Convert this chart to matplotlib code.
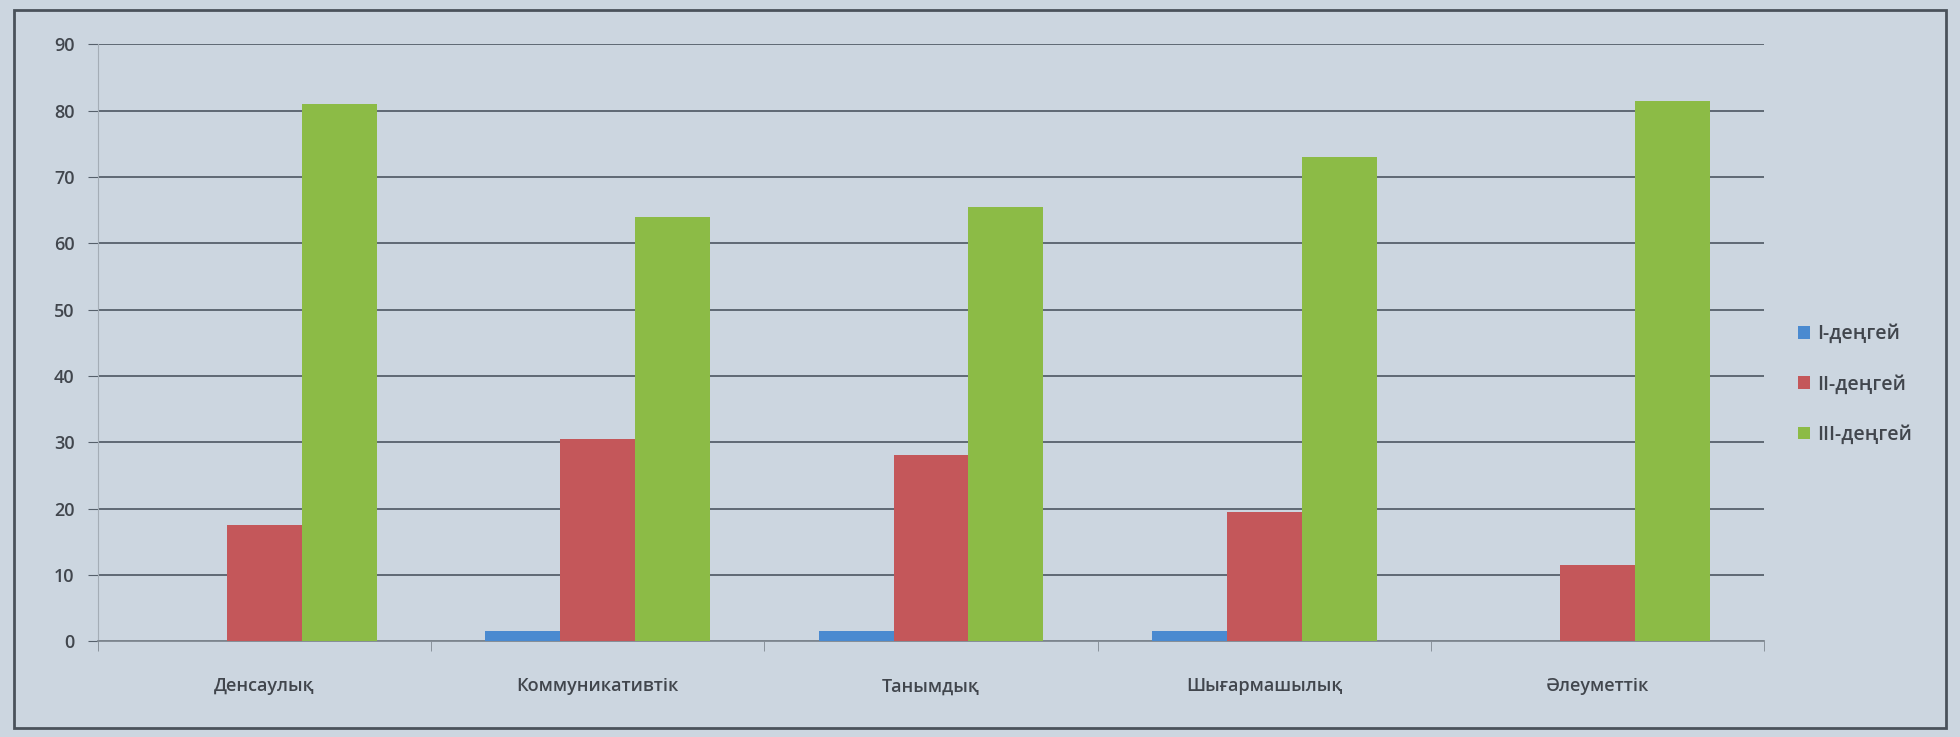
import numpy as np
import matplotlib.pyplot as plt
from matplotlib.patches import Rectangle

plt.rcParams['font.family'] = ['Open Sans', 'Noto Sans', 'DejaVu Sans']

# data
categories = ['Денсаулық', 'Коммуникативтік', 'Танымдық', 'Шығармашылық', 'Әлеуметтік']
level1 = [0, 1.5, 1.5, 1.5, 0]
level2 = [17.5, 30.5, 28, 19.5, 11.5]
level3 = [81, 64, 65.5, 73, 81.5]
series_names = ['I-деңгей', 'II-деңгей', 'III-деңгей']

colors = ['#4a8ad0', '#c4575a', '#8cbb46']
bg = '#ccd6e0'
txt = '#41464d'

fig = plt.figure(figsize=(19.6, 7.37), dpi=100, facecolor=bg)
ax = fig.add_axes([0.05, 0.13, 0.85, 0.81])
ax.set_facecolor(bg)

x = np.arange(len(categories))
w = 0.225
for i, vals in enumerate([level1, level2, level3]):
    ax.bar(x + (i - 1) * w, vals, w, color=colors[i], label=series_names[i], zorder=3)

ax.set_xlim(-0.5, len(categories) - 0.5)
ax.set_ylim(0, 90)
ax.set_yticks(range(0, 91, 10))
ax.yaxis.grid(True, color='#56606b', linewidth=1.3, zorder=0)

ax.set_xticks(x)
ax.set_xticklabels(categories, fontsize=13, color=txt, fontweight='semibold')
ax.set_xticks(np.arange(-0.5, len(categories), 1), minor=True)
ax.tick_params(axis='x', which='major', length=0, pad=26)
ax.tick_params(axis='x', which='minor', length=7, color='#7f8891')
ax.tick_params(axis='y', length=7, color='#56606b', labelsize=13,
               labelcolor=txt, pad=10)
for lab in ax.get_yticklabels():
    lab.set_fontweight('semibold')

for s in ['top', 'right']:
    ax.spines[s].set_visible(False)
ax.spines['left'].set_color('#a4adb6')
ax.spines['bottom'].set_color('#7f8891')
ax.spines['bottom'].set_linewidth(1.3)

leg = ax.legend(loc='center left', bbox_to_anchor=(1.01, 0.43), frameon=False,
                fontsize=14, handlelength=0.6, handleheight=0.6,
                handletextpad=0.4, labelspacing=1.55)
for t in leg.get_texts():
    t.set_color(txt)
    t.set_fontweight('semibold')

# outer frame of the chart area
fig.patches.append(Rectangle((0.007, 0.012), 0.986, 0.975, transform=fig.transFigure,
                             fill=False, edgecolor='#4a525b', linewidth=2))

fig.savefig('out.png', dpi=100, facecolor=bg)
